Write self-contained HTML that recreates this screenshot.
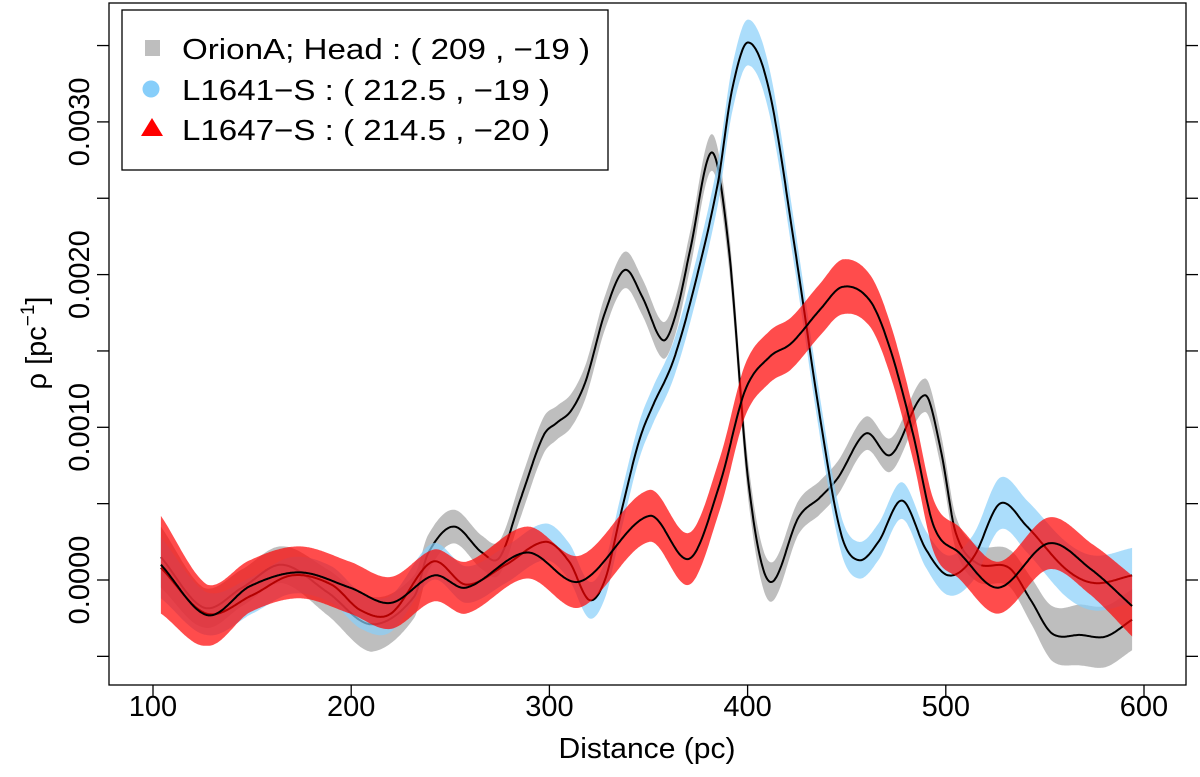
<!DOCTYPE html>
<html><head><meta charset="utf-8"><style>
html,body{margin:0;padding:0;background:#fff;}
svg{display:block;font-family:"Liberation Sans",Arial,sans-serif;}
</style></head><body>
<svg id="chart" width="1200" height="777" viewBox="0 0 1200 777" xmlns="http://www.w3.org/2000/svg">
<g id="series"></g>
<rect x="109" y="3" width="1077" height="682" fill="none" stroke="#000" stroke-width="1.3"/>
<g id="axes"></g>
<text x="647" y="758" font-size="29" text-anchor="middle" textLength="177" lengthAdjust="spacingAndGlyphs">Distance (pc)</text>
<text transform="translate(46,343) rotate(-90)" font-size="29" text-anchor="middle">ρ [pc<tspan font-size="19" dy="-12">−1</tspan><tspan dy="12">]</tspan></text>
<g>
<rect x="122" y="10" width="486" height="160" fill="#fff" stroke="#000" stroke-width="1.3"/>
<g>
<rect x="145" y="40" width="15" height="16" fill="#bebebe"/>
<text x="182" y="59" font-size="29" textLength="408" lengthAdjust="spacingAndGlyphs">OrionA; Head : ( 209 , −19 )</text></g>
<g>
<circle cx="151" cy="89" r="8.5" fill="#87cefa"/>
<text x="182" y="100" font-size="29" textLength="368" lengthAdjust="spacingAndGlyphs">L1641−S : ( 212.5 , −19 )</text></g>
<g>
<polygon points="141,136 163,136 152,118" fill="#ff0000"/>
<text x="182" y="140" font-size="29" textLength="368" lengthAdjust="spacingAndGlyphs">L1647−S : ( 214.5 , −20 )</text></g>
</g>
</svg>
<script>
// values in units of 1e-3 pc^-1
const grayX = [104,125.5,145,165,188,210,231.7,239,251.7,266,275,285.7,296.8,303.8,311,318.5,328,338,347,357.3,364,371,382,390.6,400.5,411,425.7,436.5,445.6,459.7,472.3,489.5,497.5,505,515.7,531.9,542.8,553.6,568,580.7,594];
const grayV = [0.15,-0.18,-0.05,0.10,-0.08,-0.29,-0.11,0.18,0.35,0.18,0.15,0.54,0.94,1.03,1.11,1.31,1.75,2.03,1.85,1.57,1.75,2.16,2.80,2.16,0.63,-0.01,0.41,0.54,0.67,0.96,0.82,1.21,0.85,0.31,0.11,0.08,-0.13,-0.35,-0.36,-0.37,-0.26];
const grayW = [0.2,0.13,0.12,0.12,0.15,0.18,0.14,0.12,0.11,0.11,0.11,0.12,0.12,0.11,0.11,0.11,0.11,0.12,0.12,0.12,0.12,0.12,0.12,0.12,0.12,0.13,0.11,0.11,0.11,0.11,0.11,0.11,0.11,0.11,0.12,0.12,0.15,0.18,0.2,0.2,0.2];
const blueX = [104,127,150,170,190,205,220,241,258,278,298,310,320,328,335.6,345,351.8,362.6,373.5,385,392,400.2,411,424,436.5,447,456,466,477.9,490,501.4,514,527.3,541,560.7,575,594];
const blueV = [0.08,-0.22,-0.10,0.03,-0.03,-0.20,-0.22,0.12,-0.03,0.10,0.25,0.12,-0.13,0.0,0.41,0.90,1.13,1.44,1.94,2.60,3.20,3.52,3.20,2.16,1.07,0.31,0.13,0.25,0.52,0.20,0.03,0.15,0.50,0.35,0.07,-0.02,0.03];
const blueW = [0.2,0.14,0.12,0.12,0.12,0.12,0.12,0.12,0.12,0.12,0.12,0.12,0.12,0.12,0.12,0.12,0.12,0.12,0.13,0.14,0.15,0.15,0.15,0.14,0.13,0.12,0.12,0.12,0.12,0.12,0.13,0.15,0.17,0.17,0.18,0.18,0.18];
const redX = [104,127.3,149,174,199.4,220,241.8,258,288.7,315.4,350.5,370.7,386,398.7,411,422,436.5,448,461.7,472,483.4,494,506.6,526.6,551.9,573.3,594];
const redV = [0.10,-0.23,-0.04,0.05,-0.05,-0.15,0.03,-0.05,0.18,-0.01,0.42,0.14,0.63,1.24,1.46,1.55,1.77,1.92,1.83,1.51,0.96,0.35,0.18,-0.05,0.24,0.07,-0.17];
const redW = [0.32,0.2,0.17,0.17,0.17,0.17,0.17,0.17,0.17,0.17,0.17,0.17,0.17,0.17,0.17,0.17,0.17,0.18,0.17,0.17,0.17,0.17,0.17,0.17,0.17,0.17,0.2];
const xTicks = [100,200,300,400,500,600];
const yTicks = [-0.0005,0,0.0005,0.001,0.0015,0.002,0.0025,0.003,0.0035];
const yLabels = ["0.0000","0.0010","0.0020","0.0030"];
const yLabelVals = [0,0.001,0.002,0.003];

const NS="http://www.w3.org/2000/svg";
const xs = v => 153 + (v-100)*1.982;
const ys = v => 580 - v*152700;
function mk(tag, attrs, parent){const e=document.createElementNS(NS,tag);for(const k in attrs)e.setAttribute(k,attrs[k]);parent.appendChild(e);return e;}
function interp(X,Y,x){
  let i=0; while(i<X.length-2 && x>X[i+1]) i++;
  const n=X.length;
  const m=j=>{ if(j===0) return (Y[1]-Y[0])/(X[1]-X[0]); if(j===n-1) return (Y[n-1]-Y[n-2])/(X[n-1]-X[n-2]); return (Y[j+1]-Y[j-1])/(X[j+1]-X[j-1]); };
  const h=X[i+1]-X[i], t=(x-X[i])/h, t2=t*t, t3=t2*t;
  return (2*t3-3*t2+1)*Y[i]+(t3-2*t2+t)*h*m(i)+(-2*t3+3*t2)*Y[i+1]+(t3-t2)*h*m(i+1);
}
function linw(X,W,x){let i=0; while(i<X.length-2 && x>X[i+1]) i++; const t=(x-X[i])/(X[i+1]-X[i]); return W[i]+(W[i+1]-W[i])*t;}
const layer=document.getElementById('series');
function drawSeries(name,X,V,W,fill,op){
  const g=mk('g',{},layer);
  
  
  const up=[],lo=[],mid=[];
  for(let x=X[0]; x<=X[X.length-1]+1e-9; x+=0.5){
    const v=interp(X,V,x), w=linw(X,W,x);
    up.push(xs(x).toFixed(1)+','+ys((v+w)/1000).toFixed(1));
    lo.push(xs(x).toFixed(1)+','+ys((v-w)/1000).toFixed(1));
    mid.push(xs(x).toFixed(1)+','+ys(v/1000).toFixed(1));
  }
  const band=mk('polygon',{points:up.concat(lo.reverse()).join(' '),fill:fill,'fill-opacity':op},g);
  
  
  const line=mk('polyline',{points:mid.join(' '),fill:'none',stroke:'#000','stroke-width':2},g);
  
  
}
drawSeries('orion-head-series',grayX,grayV,grayW,'#bebebe',1);
drawSeries('l1641s-series',blueX,blueV,blueW,'#87cefa',0.7);
drawSeries('l1647s-series',redX,redV,redW,'#ff0000',0.7);

const ax=document.getElementById('axes');
xTicks.forEach(t=>{
  const l=mk('line',{x1:xs(t),x2:xs(t),y1:685,y2:697,stroke:'#000','stroke-width':1.3},ax);
  
  
  const tx=mk('text',{x:xs(t),y:716,'font-size':29,'text-anchor':'middle'},ax);
  
  
  tx.textContent=t;
});
yTicks.forEach(t=>{
  const y=ys(t);
  const l=mk('line',{x1:97,x2:109,y1:y,y2:y,stroke:'#000','stroke-width':1.3},ax);
  
  
  const r=mk('line',{x1:1186,x2:1198,y1:y,y2:y,stroke:'#000','stroke-width':1.3},ax);
  
  
});
yLabelVals.forEach((v,i)=>{
  const y=ys(v);
  const tx=mk('text',{transform:'translate(89,'+y+') rotate(-90)','font-size':29,'text-anchor':'middle'},ax);
  
  
  tx.textContent=yLabels[i];
});
</script>
</body></html>
